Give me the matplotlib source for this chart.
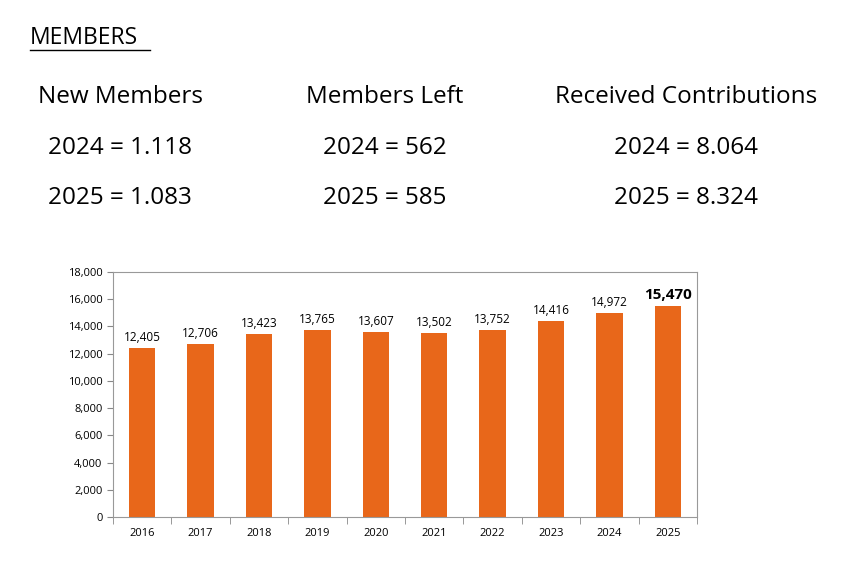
import matplotlib
matplotlib.use("Agg")
import matplotlib.pyplot as plt

years = ["2016", "2017", "2018", "2019", "2020", "2021", "2022", "2023", "2024", "2025"]
members = [12405, 12706, 13423, 13765, 13607, 13502, 13752, 14416, 14972, 15470]

headers = ["New Members", "Members Left", "Received Contributions"]
header_x = [38, 306, 555]
line_2024 = ["2024 = 1.118", "2024 = 562", "2024 = 8.064"]
line_2025 = ["2025 = 1.083", "2025 = 585", "2025 = 8.324"]
value_x = [48, 323, 614]

plt.rcParams["font.family"] = ["Open Sans", "DejaVu Sans"]
W, H = 852, 581
fig = plt.figure(figsize=(W / 100, H / 100), dpi=100)

def px(x, y):
    return x / W, 1 - y / H

fig.text(*px(30, 38), "MEMBERS", fontsize=16.5, va="center", ha="left")
fig.add_artist(plt.Line2D([30 / W, 150 / W], [1 - 50 / H] * 2, color="black", lw=1))
for i in range(3):
    fig.text(*px(header_x[i], 97), headers[i], fontsize=17.5, va="center")
    fig.text(*px(value_x[i], 148), line_2024[i], fontsize=17.5, va="center")
    fig.text(*px(value_x[i], 198), line_2025[i], fontsize=17.5, va="center")

ax = fig.add_axes([113 / W, (H - 517) / H, 584 / W, 245 / H])
x = range(len(years))
ax.bar(x, members, width=0.45, color="#E8671A")
for i, v in enumerate(members):
    last = i == len(members) - 1
    ax.text(i, v + 300, f"{v:,}", ha="center", va="bottom",
            fontsize=11 if last else 8.5, fontweight="bold" if last else "normal")
ax.set_ylim(0, 18000)
ax.set_xlim(-0.5, len(years) - 0.5)
ax.set_yticks(range(0, 18001, 2000))
ax.set_yticklabels([f"{v:,}" for v in range(0, 18001, 2000)], fontsize=8)
ax.set_xticks(x)
ax.set_xticklabels(years, fontsize=8)
ax.set_xticks([i + 0.5 for i in range(-1, len(years))], minor=True)
ax.tick_params(axis="x", which="major", length=0, pad=8)
ax.tick_params(axis="x", which="minor", length=5, color="#888888")
ax.tick_params(axis="y", length=4, color="#888888")
for s in ax.spines.values():
    s.set_color("#999999")
    s.set_linewidth(0.8)

fig.savefig("out.png", dpi=100)
